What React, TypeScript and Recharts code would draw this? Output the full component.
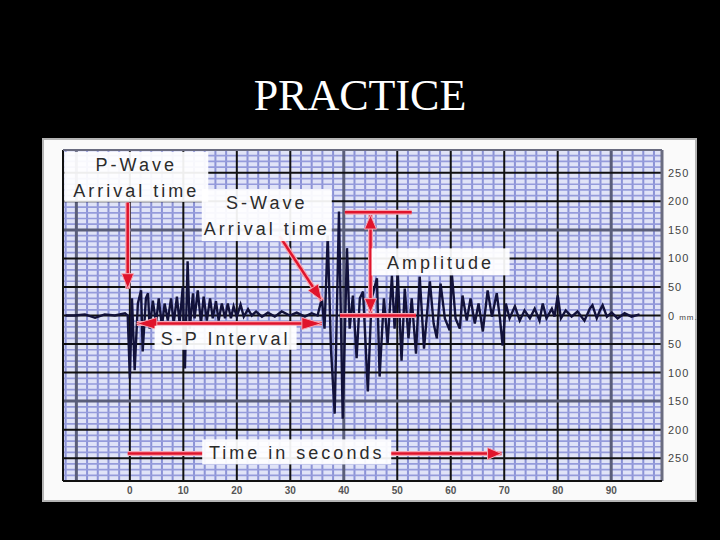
import React from "react";
import {
  LineChart,
  Line,
  XAxis,
  YAxis,
  ReferenceLine,
  ReferenceDot,
} from "recharts";

// seismogram trace, seconds / mm
const times = [
  -12.0, -10.3, -8.4, -6.5, -4.7, -2.8, -0.9, -0.4,
  0.0, 0.4, 0.9, 1.5, 2.1, 2.4, 3.0, 3.4, 3.7, 4.3, 4.9, 5.4, 6.0, 6.5, 7.1, 7.7, 8.2, 8.8, 9.3, 9.9,
  10.3, 10.8, 11.2, 11.8, 12.1, 12.7, 13.3, 13.8, 14.4, 15.0, 15.5, 16.1, 16.6, 17.2, 17.8, 18.3, 18.9, 19.4,
  20.0, 20.7, 21.3, 22.1, 22.8, 23.6, 24.7, 25.8, 27.1, 28.4, 29.9, 31.2, 32.7, 34.0, 35.1,
  35.9, 36.4, 37.0, 37.6, 38.3, 39.1, 39.8, 40.6, 41.1, 41.7, 42.4, 43.0, 43.6, 44.5, 45.2, 46.2, 46.7,
  47.5, 48.2, 49.0, 49.5, 50.1, 50.8, 51.4, 52.1, 52.7, 53.5, 54.2, 55.0, 56.1, 56.8, 57.4, 58.1, 58.9,
  59.8, 60.2, 60.9, 61.7, 62.2, 63.0, 63.7, 64.5, 65.2, 66.0, 66.9, 67.7, 68.6, 69.2, 69.7, 70.3, 71.0,
  72.0, 72.9, 73.8, 74.8, 75.7, 76.6, 77.2, 77.9, 78.9, 79.4, 80.0, 80.6, 81.5, 82.6, 83.7, 85.0, 86.0,
  86.5, 87.3, 87.9, 88.4, 89.2, 90.1, 91.2, 92.5, 93.8, 95.3,
];
const amplitudes = [
  0, 0, 2, -4, 2, 0, 4, 0,
  -110, 30, -96, 21, 44, -63, 30, 39, -23, 26, -14, 30, -19, 21, -9, 30, -14, 33, -14, 51,
  -93, 95, -23, 39, -5, 44, -14, 33, -9, 30, -5, 25, -9, 21, -5, 21, -5, 16,
  -2, 19, -2, 11, 0, 7, -2, 5, -2, 7, 0, 5, -2, 4, 0,
  30, -23, 140, -58, -172, 182, -181, 118, -23, 35, -75, 30, 42, -133, 30, 65, -107,
  30, -49, 70, -23, 74, -79, 47, -40, 30, -67, 68, -58, 60, -14, -40, 56, -5,
  -26, 74, -5, -23, 35, -9, 30, -14, 21, -28, 44, -2, 39, -5, -53, 21, -5,
  16, -9, 9, -5, 12, -9, 21, -5, 12, -2, 35, -5, 9, -2, 7, -9, 12,
  18, -5, 9, 18, -2, 5, -5, 4, -2, 2,
];

const timeTicks = [0, 10, 20, 30, 40, 50, 60, 70, 80, 90];
const mmTicks = [-250, -200, -150, -100, -50, 0, 50, 100, 150, 200, 250];
const majorTimes = [-10, 0, 10, 20, 30, 40, 50, 60, 70, 80, 90];
const majorMm = [-250, -200, -150, -100, -50, 0, 50, 100, 150, 200, 250];
const greyTimes = [-10, 40, 90];
const greyMm = [-150, 150];

const calloutText = [
  ["P-Wave", "Arrival time"],
  ["S-Wave", "Arrival time"],
  ["Amplitude"],
  ["S-P Interval"],
  ["Time in seconds"],
];
const calloutX = [1.2, 25.6, 58.1, 17.9, 31.2];
const calloutY = [243, 176, 94, -39, -239];
const calloutW = [144, 130, 138, 142, 189];
const calloutH = [50, 52, 27, 24, 25];

const X_DOMAIN: [number, number] = [-12.5, 99.5];
const Y_DOMAIN: [number, number] = [-290, 290];

const data = times.map((t, i) => ({ t, mm: amplitudes[i] }));

// minor grid: 2 s and 10 mm steps between the heavy lines
const minorTimes: number[] = [];
for (let v = -12; v <= 98; v += 2) if (v % 10 !== 0) minorTimes.push(v);
const minorMm: number[] = [];
for (let v = -280; v <= 280; v += 10) if (v % 50 !== 0) minorMm.push(v);

const RED = "#e0142c";
const HALO = "#f4a6b4";
const FONT = "'Liberation Sans', Arial, sans-serif";

function arrowShape(atStart: boolean, atEnd: boolean, len = 16, half = 6) {
  return (p: any) => {
    const { x1, y1, x2, y2 } = p;
    const a = Math.atan2(y2 - y1, x2 - x1);
    const head = (x: number, y: number, ang: number) => {
      const bx = x - len * Math.cos(ang);
      const by = y - len * Math.sin(ang);
      const px = half * Math.sin(ang);
      const py = -half * Math.cos(ang);
      return `${x},${y} ${bx + px},${by + py} ${bx - px},${by - py}`;
    };
    return (
      <g>
        <line x1={x1} y1={y1} x2={x2} y2={y2} stroke={HALO} strokeWidth={5} />
        <line x1={x1} y1={y1} x2={x2} y2={y2} stroke={RED} strokeWidth={2.5} />
        {atEnd && <polygon points={head(x2, y2, a)} fill={RED} stroke={HALO} strokeWidth={1} />}
        {atStart && <polygon points={head(x1, y1, a + Math.PI)} fill={RED} stroke={HALO} strokeWidth={1} />}
      </g>
    );
  };
}

function calloutShape(i: number) {
  return (p: any) => {
    const { cx, cy } = p;
    const w = calloutW[i];
    const h = calloutH[i];
    const lines = calloutText[i];
    const n = lines.length;
    return (
      <g>
        <rect x={cx - w / 2} y={cy - h / 2} width={w} height={h} fill="#ffffff" fillOpacity={0.93} />
        {lines.map((s, k) => (
          <text
            key={k}
            x={cx}
            y={cy + 7 - (n - 1) * 13 + k * 26}
            textAnchor="middle"
            fontFamily={FONT}
            fontSize={18}
            letterSpacing={3}
            fill="#2b2b2b"
          >
            {s}
          </text>
        ))}
      </g>
    );
  };
}

function MmTick(p: any) {
  const { x, y, payload } = p;
  const v = payload.value as number;
  return (
    <text x={x} y={y + 4} fontFamily={FONT} fill="#444" fontSize={11} letterSpacing={1}>
      {v === 0 ? (
        <>
          0 <tspan fontSize={8}>mm.</tspan>
        </>
      ) : (
        String(Math.abs(v))
      )}
    </text>
  );
}

export default function App() {
  return (
    <div
      style={{
        position: "absolute",
        left: 0,
        top: 0,
        width: 720,
        height: 540,
        background: "#000",
        overflow: "hidden",
      }}
    >
      <div
        style={{
          position: "absolute",
          top: 74,
          left: 0,
          width: 720,
          textAlign: "center",
          color: "#fff",
          fontFamily: "'Liberation Serif', 'Times New Roman', serif",
          fontSize: 44,
          lineHeight: "44px",
        }}
      >
        PRACTICE
      </div>
      <div
        style={{
          position: "absolute",
          left: 42,
          top: 138,
          width: 655,
          height: 364,
          background: "#fafafa",
          boxShadow: "inset 0 0 0 2px #b4b4b4",
        }}
      >
        <LineChart
          width={655}
          height={364}
          data={data}
          margin={{ top: 12, right: 0, left: 21, bottom: 0 }}
        >
          <XAxis
            type="number"
            dataKey="t"
            domain={X_DOMAIN}
            allowDataOverflow
            ticks={timeTicks}
            interval={0}
            tickLine={false}
            axisLine={false}
            tickMargin={0}
            height={21}
            tick={{ fontSize: 10, fill: "#555", fontFamily: FONT, fontWeight: "bold" }}
          />
          <YAxis
            orientation="right"
            type="number"
            domain={Y_DOMAIN}
            allowDataOverflow
            ticks={mmTicks}
            interval={0}
            tickLine={false}
            axisLine={false}
            tickSize={2}
            tickMargin={4}
            width={35}
            tick={<MmTick />}
          />

          {/* paper background */}
          <ReferenceLine
            segment={[
              { x: X_DOMAIN[0], y: 0 },
              { x: X_DOMAIN[1], y: 0 },
            ]}
            stroke="#e0e3f7"
            strokeWidth={331}
          />
          {minorTimes.map((v) => (
            <ReferenceLine key={"mt" + v} x={v} stroke="#8b92d6" strokeWidth={2} />
          ))}
          {minorMm.map((v) => (
            <ReferenceLine key={"mm" + v} y={v} stroke="#959bdb" strokeWidth={1.7} />
          ))}
          {majorTimes.map((v) => (
            <ReferenceLine
              key={"Mt" + v}
              x={v}
              stroke={greyTimes.includes(v) ? "#5a5e7a" : "#111"}
              strokeWidth={greyTimes.includes(v) ? 3 : 2}
            />
          ))}
          {majorMm.map((v) => (
            <ReferenceLine
              key={"Mm" + v}
              y={v}
              stroke={greyMm.includes(v) ? "#5a5e7a" : "#111"}
              strokeWidth={greyMm.includes(v) ? 3 : 2}
            />
          ))}
          <ReferenceLine x={X_DOMAIN[0]} stroke="#111" strokeWidth={2} />
          <ReferenceLine x={X_DOMAIN[1]} stroke="#6a6c80" strokeWidth={3} />
          <ReferenceLine y={Y_DOMAIN[0]} stroke="#111" strokeWidth={2} />
          <ReferenceLine y={Y_DOMAIN[1]} stroke="#6a6c80" strokeWidth={2} />

          <Line
            type="linear"
            dataKey="mm"
            stroke="#12123a"
            strokeWidth={2.4}
            dot={false}
            isAnimationActive={false}
          />

          {/* annotations */}
          {calloutText.map((_, i) => (
            <ReferenceDot
              key={"c" + i}
              x={calloutX[i]}
              y={calloutY[i]}
              r={1}
              shape={calloutShape(i)}
            />
          ))}
          <ReferenceLine
            segment={[
              { x: -0.4, y: 198 },
              { x: -0.4, y: 47 },
            ]}
            shape={arrowShape(false, true, 15, 6)}
          />
          <ReferenceLine
            segment={[
              { x: 28.0, y: 139 },
              { x: 35.9, y: 26 },
            ]}
            shape={arrowShape(false, true, 16, 6)}
          />
          <ReferenceLine
            segment={[
              { x: 45.0, y: 176 },
              { x: 45.0, y: 5 },
            ]}
            shape={arrowShape(true, true, 14, 6)}
          />
          <ReferenceLine
            segment={[
              { x: 40.2, y: 181 },
              { x: 52.7, y: 181 },
            ]}
            shape={arrowShape(false, false)}
          />
          <ReferenceLine
            segment={[
              { x: 39.3, y: 0 },
              { x: 53.5, y: 0 },
            ]}
            shape={arrowShape(false, false)}
          />
          <ReferenceLine
            segment={[
              { x: 1.3, y: -14 },
              { x: 35.9, y: -14 },
            ]}
            shape={arrowShape(true, true, 20, 6)}
          />
          <ReferenceLine
            segment={[
              { x: -0.4, y: -242 },
              { x: 13.6, y: -242 },
            ]}
            shape={arrowShape(false, false)}
          />
          <ReferenceLine
            segment={[
              { x: 48.6, y: -242 },
              { x: 69.5, y: -242 },
            ]}
            shape={arrowShape(false, true, 14, 6)}
          />
        </LineChart>
      </div>
    </div>
  );
}
